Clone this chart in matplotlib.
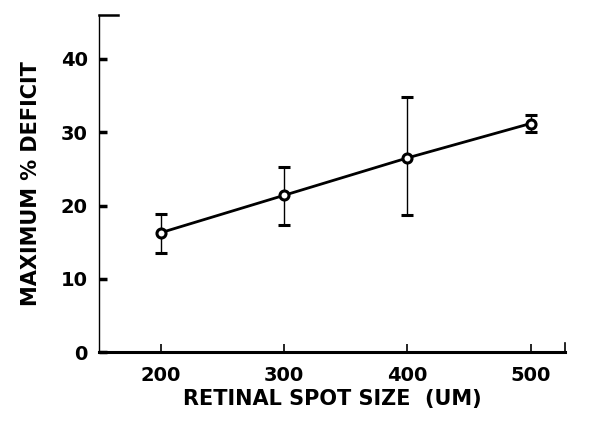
import numpy as np
import matplotlib.pyplot as plt

# データ
spot_size = [200, 300, 400, 500]
deficit = [16.3, 21.4, 26.5, 31.2]
err_low = [13.5, 17.4, 18.7, 30.0]
err_high = [18.9, 25.3, 34.8, 32.4]

yticks = [0, 10, 20, 30, 40]
xticks = [200, 300, 400, 500]

plt.rcParams['font.family'] = ['DejaVu Sans']

fig = plt.figure(figsize=(5.93, 4.29), dpi=100)
ax = fig.add_axes([0.167, 0.179, 0.786, 0.786])

lower = np.array(deficit) - np.array(err_low)
upper = np.array(err_high) - np.array(deficit)

ax.errorbar(spot_size, deficit, yerr=[lower, upper], color="black",
            linewidth=2.0, elinewidth=1.0, capsize=4.5, capthick=2.5,
            marker="o", markersize=6.5, markerfacecolor="white",
            markeredgecolor="black", markeredgewidth=2.2, zorder=3)

ax.set_xlim(150, 528)
ax.set_ylim(0, 46)

ax.set_xticks(xticks)
ax.set_yticks(yticks)
ax.tick_params(axis="x", direction="in", length=6, width=1.2, pad=10, labelsize=14)
ax.tick_params(axis="y", direction="in", length=6, width=2.5, pad=8, labelsize=14)

for lab in ax.get_xticklabels() + ax.get_yticklabels():
    lab.set_fontweight("bold")

ax.spines["bottom"].set_linewidth(2.2)
ax.spines["left"].set_linewidth(1.0)
ax.spines["left"].set_linestyle((0, (6, 1)))
ax.spines["top"].set_bounds(150, 165)
ax.spines["top"].set_linewidth(1.8)
ax.spines["right"].set_bounds(0, 1.2)
ax.spines["right"].set_linewidth(1.2)

ax.set_xlabel("RETINAL SPOT SIZE  (UM)", fontsize=15, fontweight="bold", labelpad=3)
ax.set_ylabel("MAXIMUM % DEFICIT", fontsize=15, fontweight="bold", labelpad=14)

fig.savefig("out.png", dpi=100)
